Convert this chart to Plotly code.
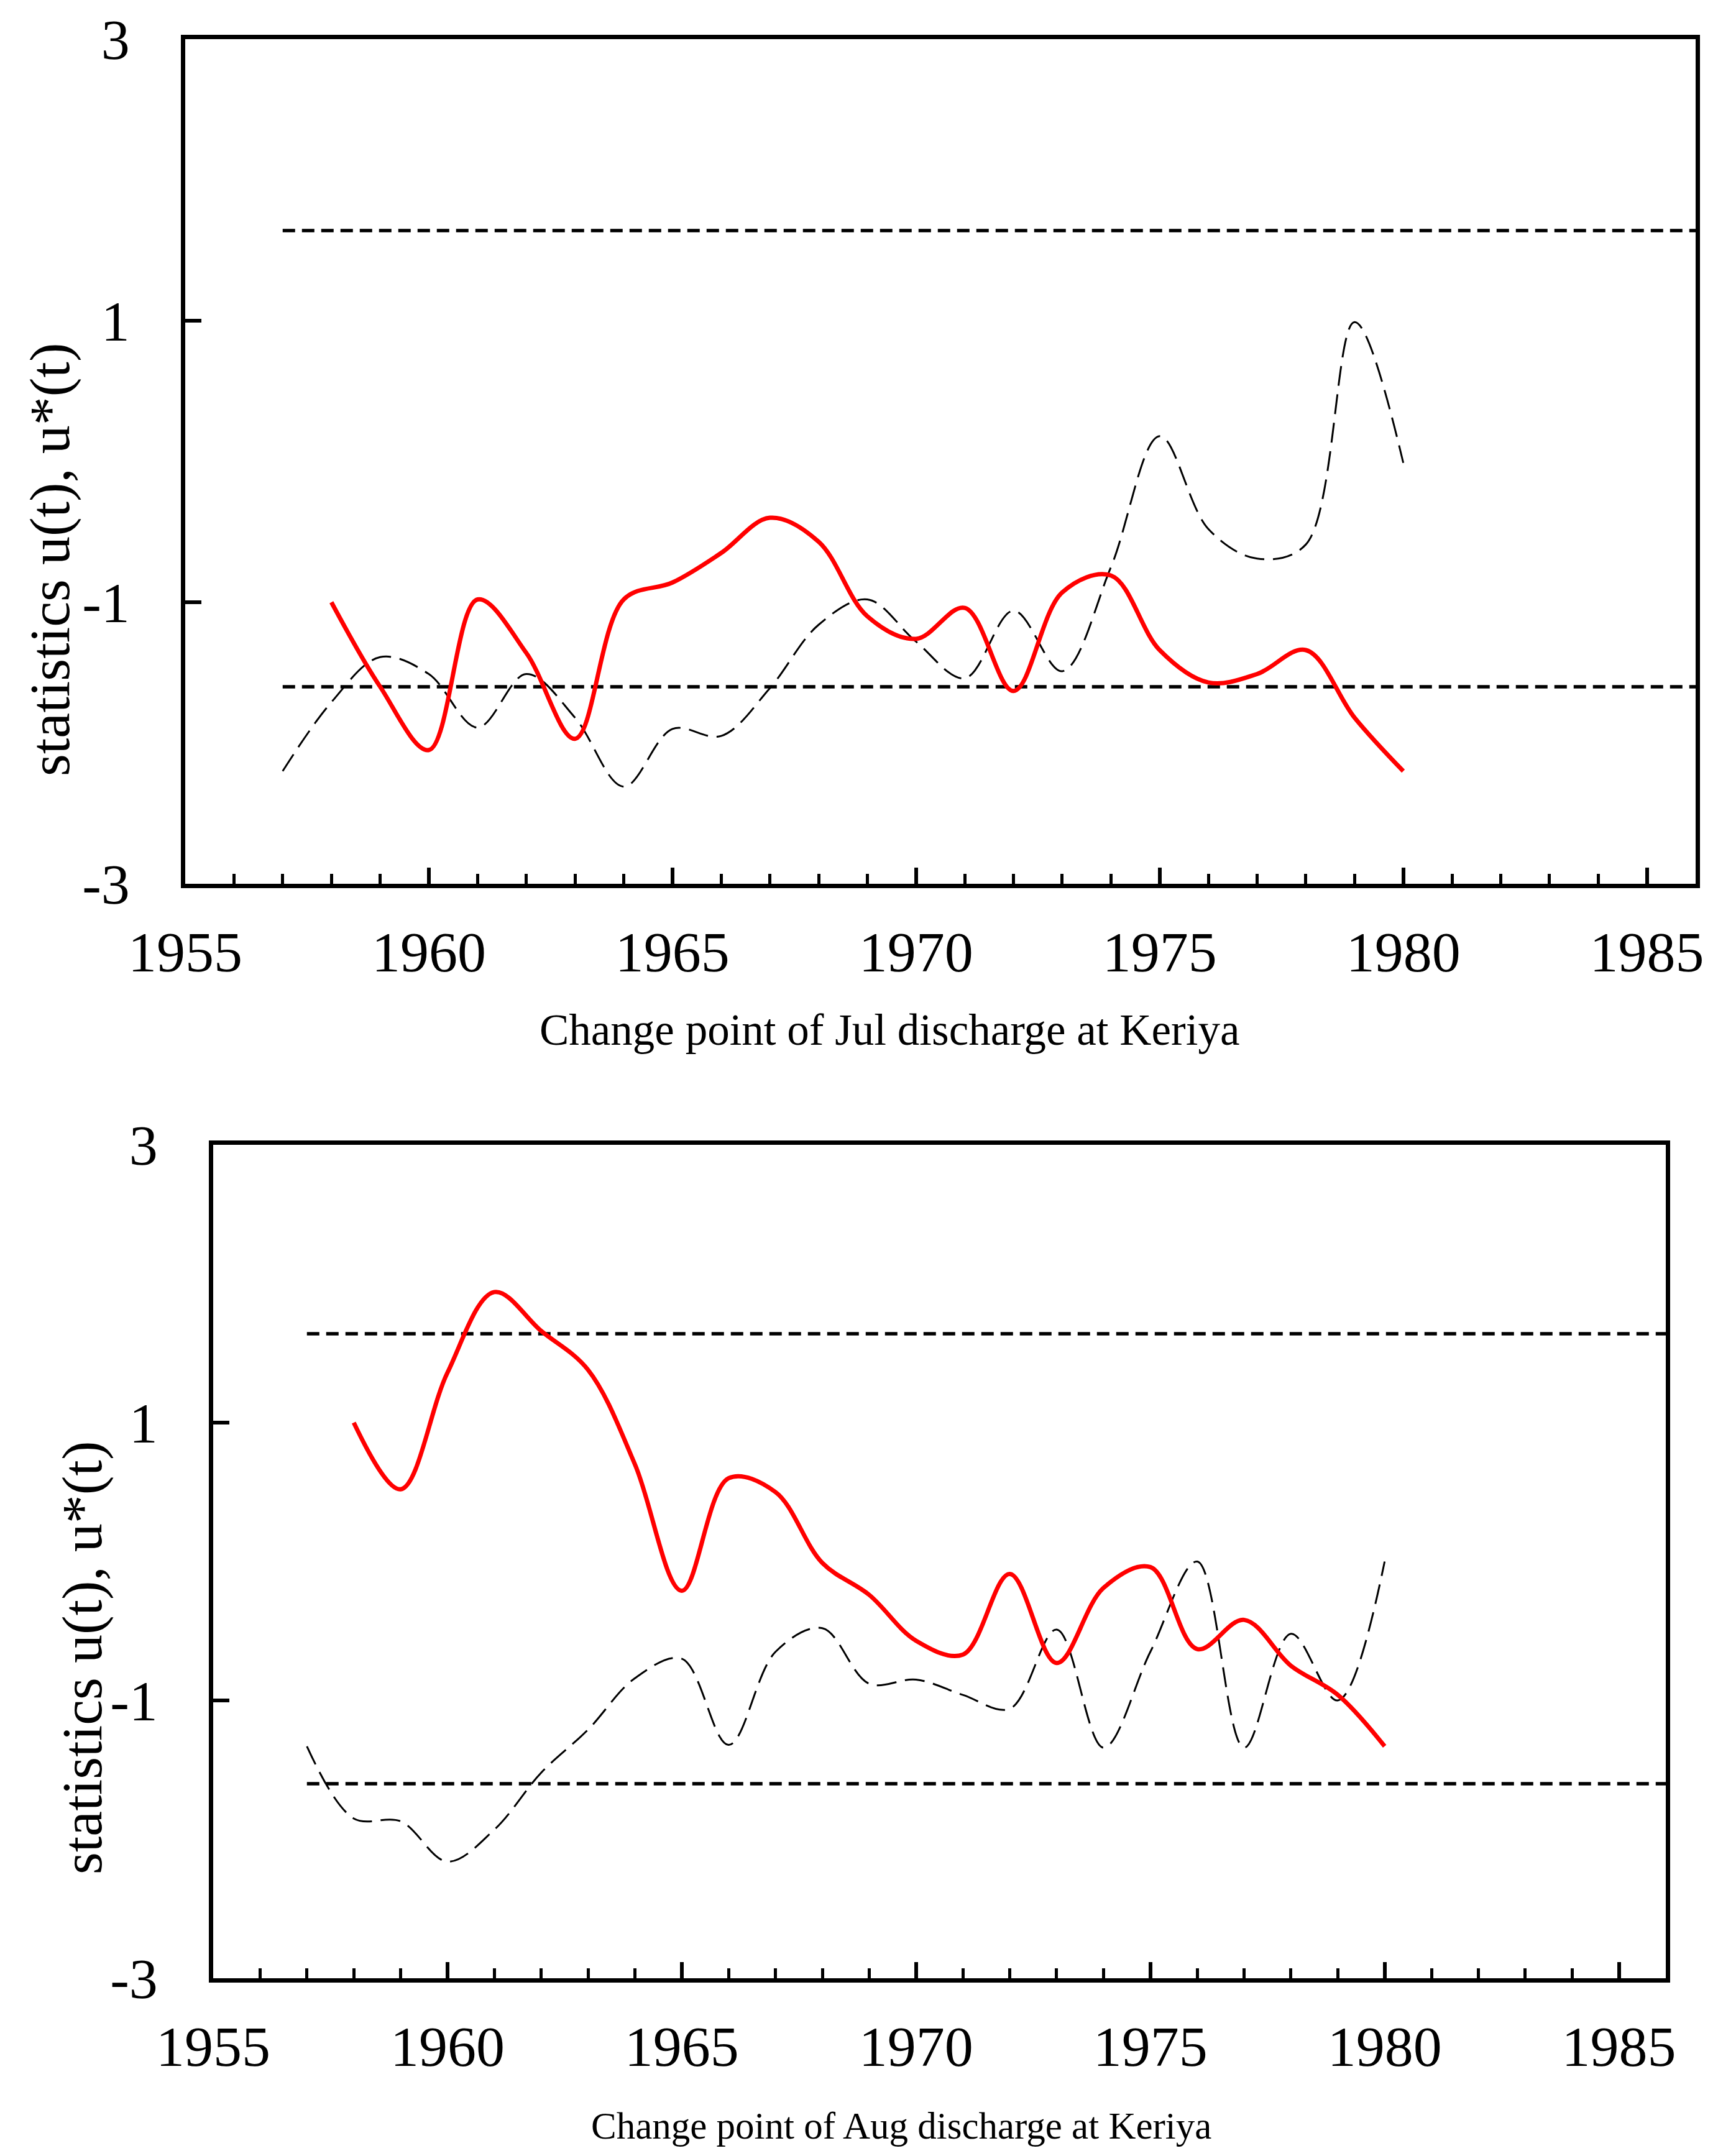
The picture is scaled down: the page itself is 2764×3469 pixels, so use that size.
import plotly.graph_objects as go

# figure size (the page adds an 8px body margin, so keep it just inside the window)
W, H = 2748, 3453
FONT = "Liberation Serif"

# ====== data ======
years_u = list(range(1958, 1981))
years_ustar = list(range(1957, 1981))
crit_x = [1957, 1986]

# July
jul_u = [-1.0, -1.6, -2.05, -0.98, -1.36, -1.97, -0.98, -0.86, -0.65, -0.40, -0.57, -1.10,
         -1.26, -1.04, -1.63, -0.93, -0.81, -1.34, -1.57, -1.51, -1.34, -1.82, -2.2]
jul_ustar = [-2.2, -1.71, -1.39, -1.51, -1.89, -1.51, -1.82, -2.31, -1.90, -1.95, -1.61, -1.16,
             -0.98, -1.28, -1.54, -1.06, -1.49, -0.75, 0.18, -0.48, -0.69, -0.59, 0.99, -0.01]

# August
aug_u = [1.0, 0.52, 1.36, 1.94, 1.66, 1.38, 0.70, -0.21, 0.60, 0.50, -0.01, -0.24,
         -0.57, -0.67, -0.09, -0.73, -0.19, -0.04, -0.63, -0.42, -0.75, -0.96, -1.33]
aug_ustar = [-1.33, -1.85, -1.87, -2.16, -1.93, -1.52, -1.21, -0.84, -0.70, -1.32, -0.65, -0.48,
             -0.88, -0.85, -0.96, -1.06, -0.49, -1.34, -0.65, 0.0, -1.34, -0.52, -1.0, 0.0]

upper_crit = 1.64
lower_crit = -1.60

ytick_vals = [-3, -1, 1, 3]
ytick_text = ["-3", "-1", "1", "3"]

y_title = "statistics u(t), u*(t)"
jul_title = "Change point of Jul discharge at Keriya"
aug_title = "Change point of Aug discharge at Keriya"


# page pixel -> paper fraction
def fx(px):
    return (px - 8) / W


def fy(py):
    return 1 - (py - 8) / H


fig = go.Figure()

panels = [
    ("x", "y", jul_u, jul_ustar),
    ("x2", "y2", aug_u, aug_ustar),
]

for xa, ya, u, ustar in panels:
    for level in (upper_crit, lower_crit):
        fig.add_trace(go.Scatter(
            x=crit_x, y=[level, level], xaxis=xa, yaxis=ya,
            mode="lines", line=dict(color="black", width=5.5, dash="20px,11px"),
            showlegend=False, hoverinfo="skip"
        ))
    fig.add_trace(go.Scatter(
        x=years_ustar, y=ustar, xaxis=xa, yaxis=ya,
        mode="lines", line=dict(color="black", width=3, dash="32px,14px", shape="spline"),
        name="u*(t)", showlegend=False
    ))
    fig.add_trace(go.Scatter(
        x=years_u, y=u, xaxis=xa, yaxis=ya,
        mode="lines", line=dict(color="#FF0000", width=7, shape="spline"),
        name="u(t)", showlegend=False
    ))


def x_style(domain, anchor):
    return dict(
        domain=domain, anchor=anchor, range=[1955, 1986], automargin=False,
        tickmode="linear", tick0=1955, dtick=5,
        ticks="inside", ticklen=26, tickwidth=6, tickcolor="black",
        minor=dict(tickmode="linear", tick0=1955, dtick=1, ticks="inside",
                   ticklen=16, tickwidth=5, tickcolor="black"),
        showline=True, linewidth=6.5, linecolor="black", mirror=True,
        showgrid=False, zeroline=False, ticklabelstandoff=24,
        tickfont=dict(family=FONT, size=92, color="black"),
    )


def y_style(domain, anchor):
    return dict(
        domain=domain, anchor=anchor, range=[-3, 3], automargin=False,
        tickmode="array", tickvals=ytick_vals, ticktext=ytick_text,
        ticks="inside", ticklen=26, tickwidth=6, tickcolor="black",
        showline=True, linewidth=6.5, linecolor="black", mirror=True,
        showgrid=False, zeroline=False, ticklabelstandoff=64,
        tickfont=dict(family=FONT, size=92, color="black"),
    )


fig.update_layout(
    width=W, height=H,
    margin=dict(l=0, r=0, t=0, b=0, autoexpand=False),
    paper_bgcolor="white", plot_bgcolor="white",
    font=dict(family=FONT, color="black"),
    xaxis=x_style([fx(298), fx(2728)], "y"),
    yaxis=y_style([fy(1422), fy(63)], "x"),
    xaxis2=x_style([fx(343), fx(2680)], "y2"),
    yaxis2=y_style([fy(3183), fy(1842)], "x2"),
    annotations=[
        dict(text=y_title, x=fx(80), y=fy(900), xref="paper", yref="paper",
             textangle=-90, showarrow=False, xanchor="center", yanchor="middle",
             font=dict(family=FONT, size=92, color="black")),
        dict(text=y_title, x=fx(132), y=fy(2667), xref="paper", yref="paper",
             textangle=-90, showarrow=False, xanchor="center", yanchor="middle",
             font=dict(family=FONT, size=92, color="black")),
        dict(text=jul_title, x=fx(1431), y=fy(1657), xref="paper", yref="paper",
             showarrow=False, xanchor="center", yanchor="middle",
             font=dict(family=FONT, size=71, color="black")),
        dict(text=aug_title, x=fx(1450), y=fy(3420), xref="paper", yref="paper",
             showarrow=False, xanchor="center", yanchor="middle",
             font=dict(family=FONT, size=61, color="black")),
    ],
)

fig.write_html("out.html")
